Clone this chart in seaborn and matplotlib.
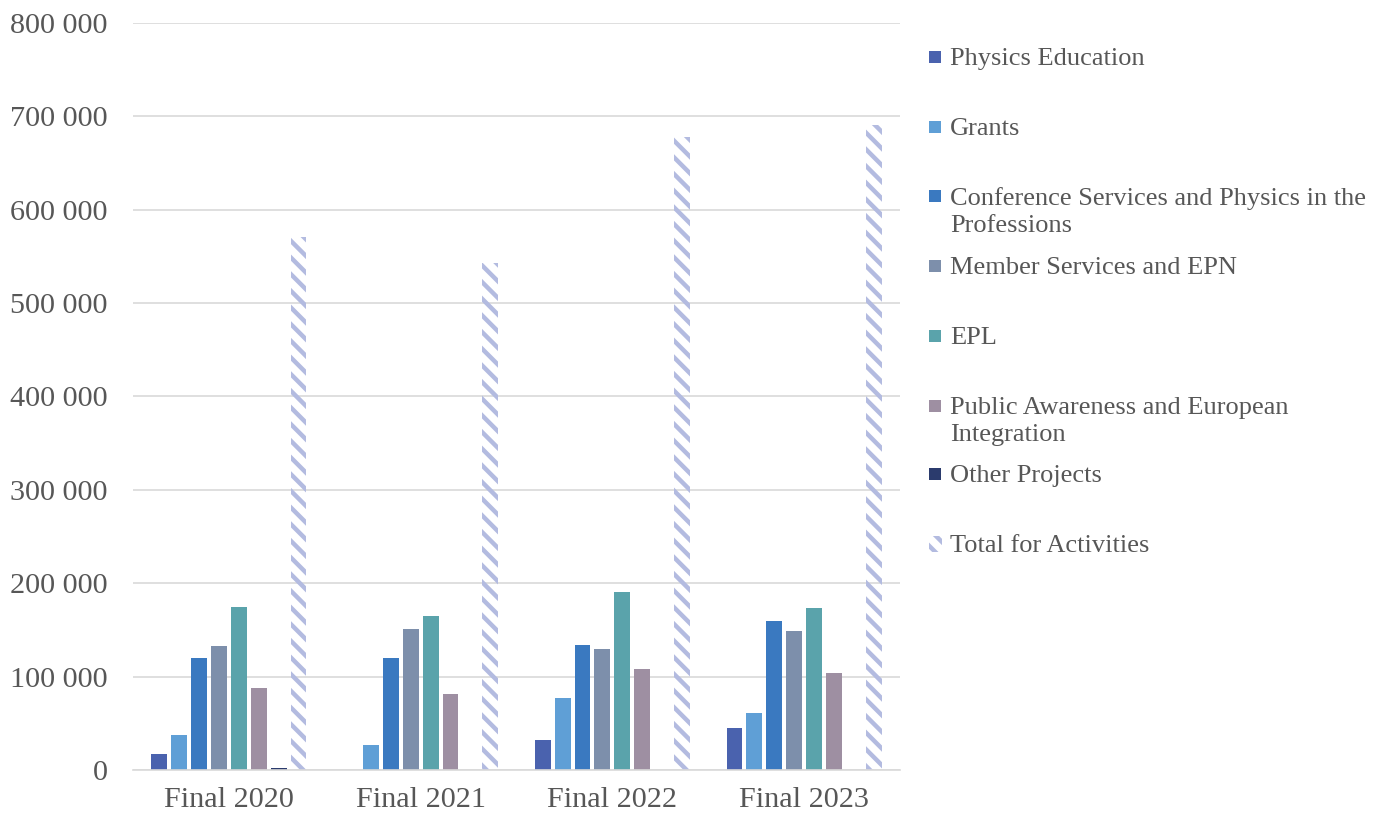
import matplotlib
matplotlib.use("Agg")
import matplotlib.pyplot as plt
from matplotlib.patches import Rectangle
from matplotlib.ticker import FuncFormatter
import seaborn as sns
import pandas as pd

years = ["Final 2020", "Final 2021", "Final 2022", "Final 2023"]
series = ["Physics Education", "Grants",
          "Conference Services and Physics in the Professions",
          "Member Services and EPN", "EPL",
          "Public Awareness and European Integration",
          "Other Projects", "Total for Activities"]
physics_education = [17000, 0, 32000, 45000]
grants = [37500, 27000, 77000, 61000]
conference = [120000, 120000, 134000, 159000]
member = [133000, 151000, 130000, 149000]
epl = [175000, 165000, 191000, 173000]
public = [88000, 81500, 108000, 104000]
other = [2500, 0, 0, 0]
total = [570500, 542500, 677500, 690500]

legend_labels = ["Physics Education", "Grants",
                 "Conference Services and Physics in the\nProfessions",
                 "Member Services and EPN", "EPL",
                 "Public Awareness and European\nIntegration",
                 "Other Projects", "Total for Activities"]

colors = ["#4a62ae", "#5f9fd6", "#3a79c0", "#7d8fab", "#5aa3ab",
          "#9e8fa2", "#2b3b6d", "#ffffff"]
hatch_color = "#b3bbe0"

values = [physics_education, grants, conference, member, epl, public, other, total]
rows = []
for s, vals in zip(series, values):
    for y, v in zip(years, vals):
        rows.append({"Year": y, "Series": s, "Value": v})
df = pd.DataFrame(rows)

sns.set_theme(style="white")
plt.rcParams["font.family"] = ["Liberation Serif", "DejaVu Serif"]
plt.rcParams["hatch.linewidth"] = 3.2
plt.rcParams["hatch.color"] = hatch_color

fig = plt.figure(figsize=(13.84, 8.23), dpi=100)
ax = fig.add_axes([133 / 1384, 1 - 770 / 823, (900 - 133) / 1384, (770 - 22.7) / 823])

sns.barplot(data=df, x="Year", y="Value", hue="Series", order=years,
            hue_order=series, palette=colors, width=0.83, gap=0.2,
            saturation=1, ax=ax, legend=False, linewidth=0)

# hatch the totals
n_years = len(years)
total_bars = ax.patches[7 * n_years:8 * n_years]
for p in total_bars:
    p.set_facecolor("none")
    p.set_hatch("\\\\")
    p.set_edgecolor(hatch_color)
    p.set_linewidth(0)

ax.set_ylim(0, 800000)
ax.set_xlim(-0.5, 3.5)
ax.set_yticks(range(0, 800001, 100000))
ax.yaxis.set_major_formatter(FuncFormatter(lambda v, _: f"{int(v):,}".replace(",", " ")))
ax.grid(axis="y", color="#d9d9d9", linewidth=1.2)
ax.set_axisbelow(True)
for s in ["left", "right", "top"]:
    ax.spines[s].set_visible(False)
ax.spines["bottom"].set_color("#d9d9d9")
ax.spines["bottom"].set_linewidth(1.2)
ax.set_xlabel("")
ax.set_ylabel("")
ax.tick_params(axis="y", length=0, pad=18, labelsize=21.7, labelcolor="#575757")
ax.tick_params(axis="x", length=0, pad=12, labelsize=21.7, labelcolor="#575757")

# legend
first_line_y = [57, 127, 196, 266, 336, 406, 474, 544]
for lab, col, yy, i in zip(legend_labels, colors, first_line_y, range(8)):
    if i < 7:
        fig.patches.append(Rectangle((929 / 1384, 1 - (yy + 6) / 823), 12 / 1384, 12 / 823,
                                     transform=fig.transFigure, facecolor=col,
                                     edgecolor="none"))
    else:
        fig.patches.append(Rectangle((929 / 1384, 1 - (yy + 8) / 823), 13 / 1384, 16 / 823,
                                     transform=fig.transFigure, facecolor="none",
                                     hatch="\\\\", edgecolor=hatch_color, linewidth=0))
    fig.text(950 / 1384, 1 - (yy - 9) / 823, lab, fontsize=19, color="#575757",
             va="top", ha="left", linespacing=1.28)

fig.savefig("out.png", dpi=100)
